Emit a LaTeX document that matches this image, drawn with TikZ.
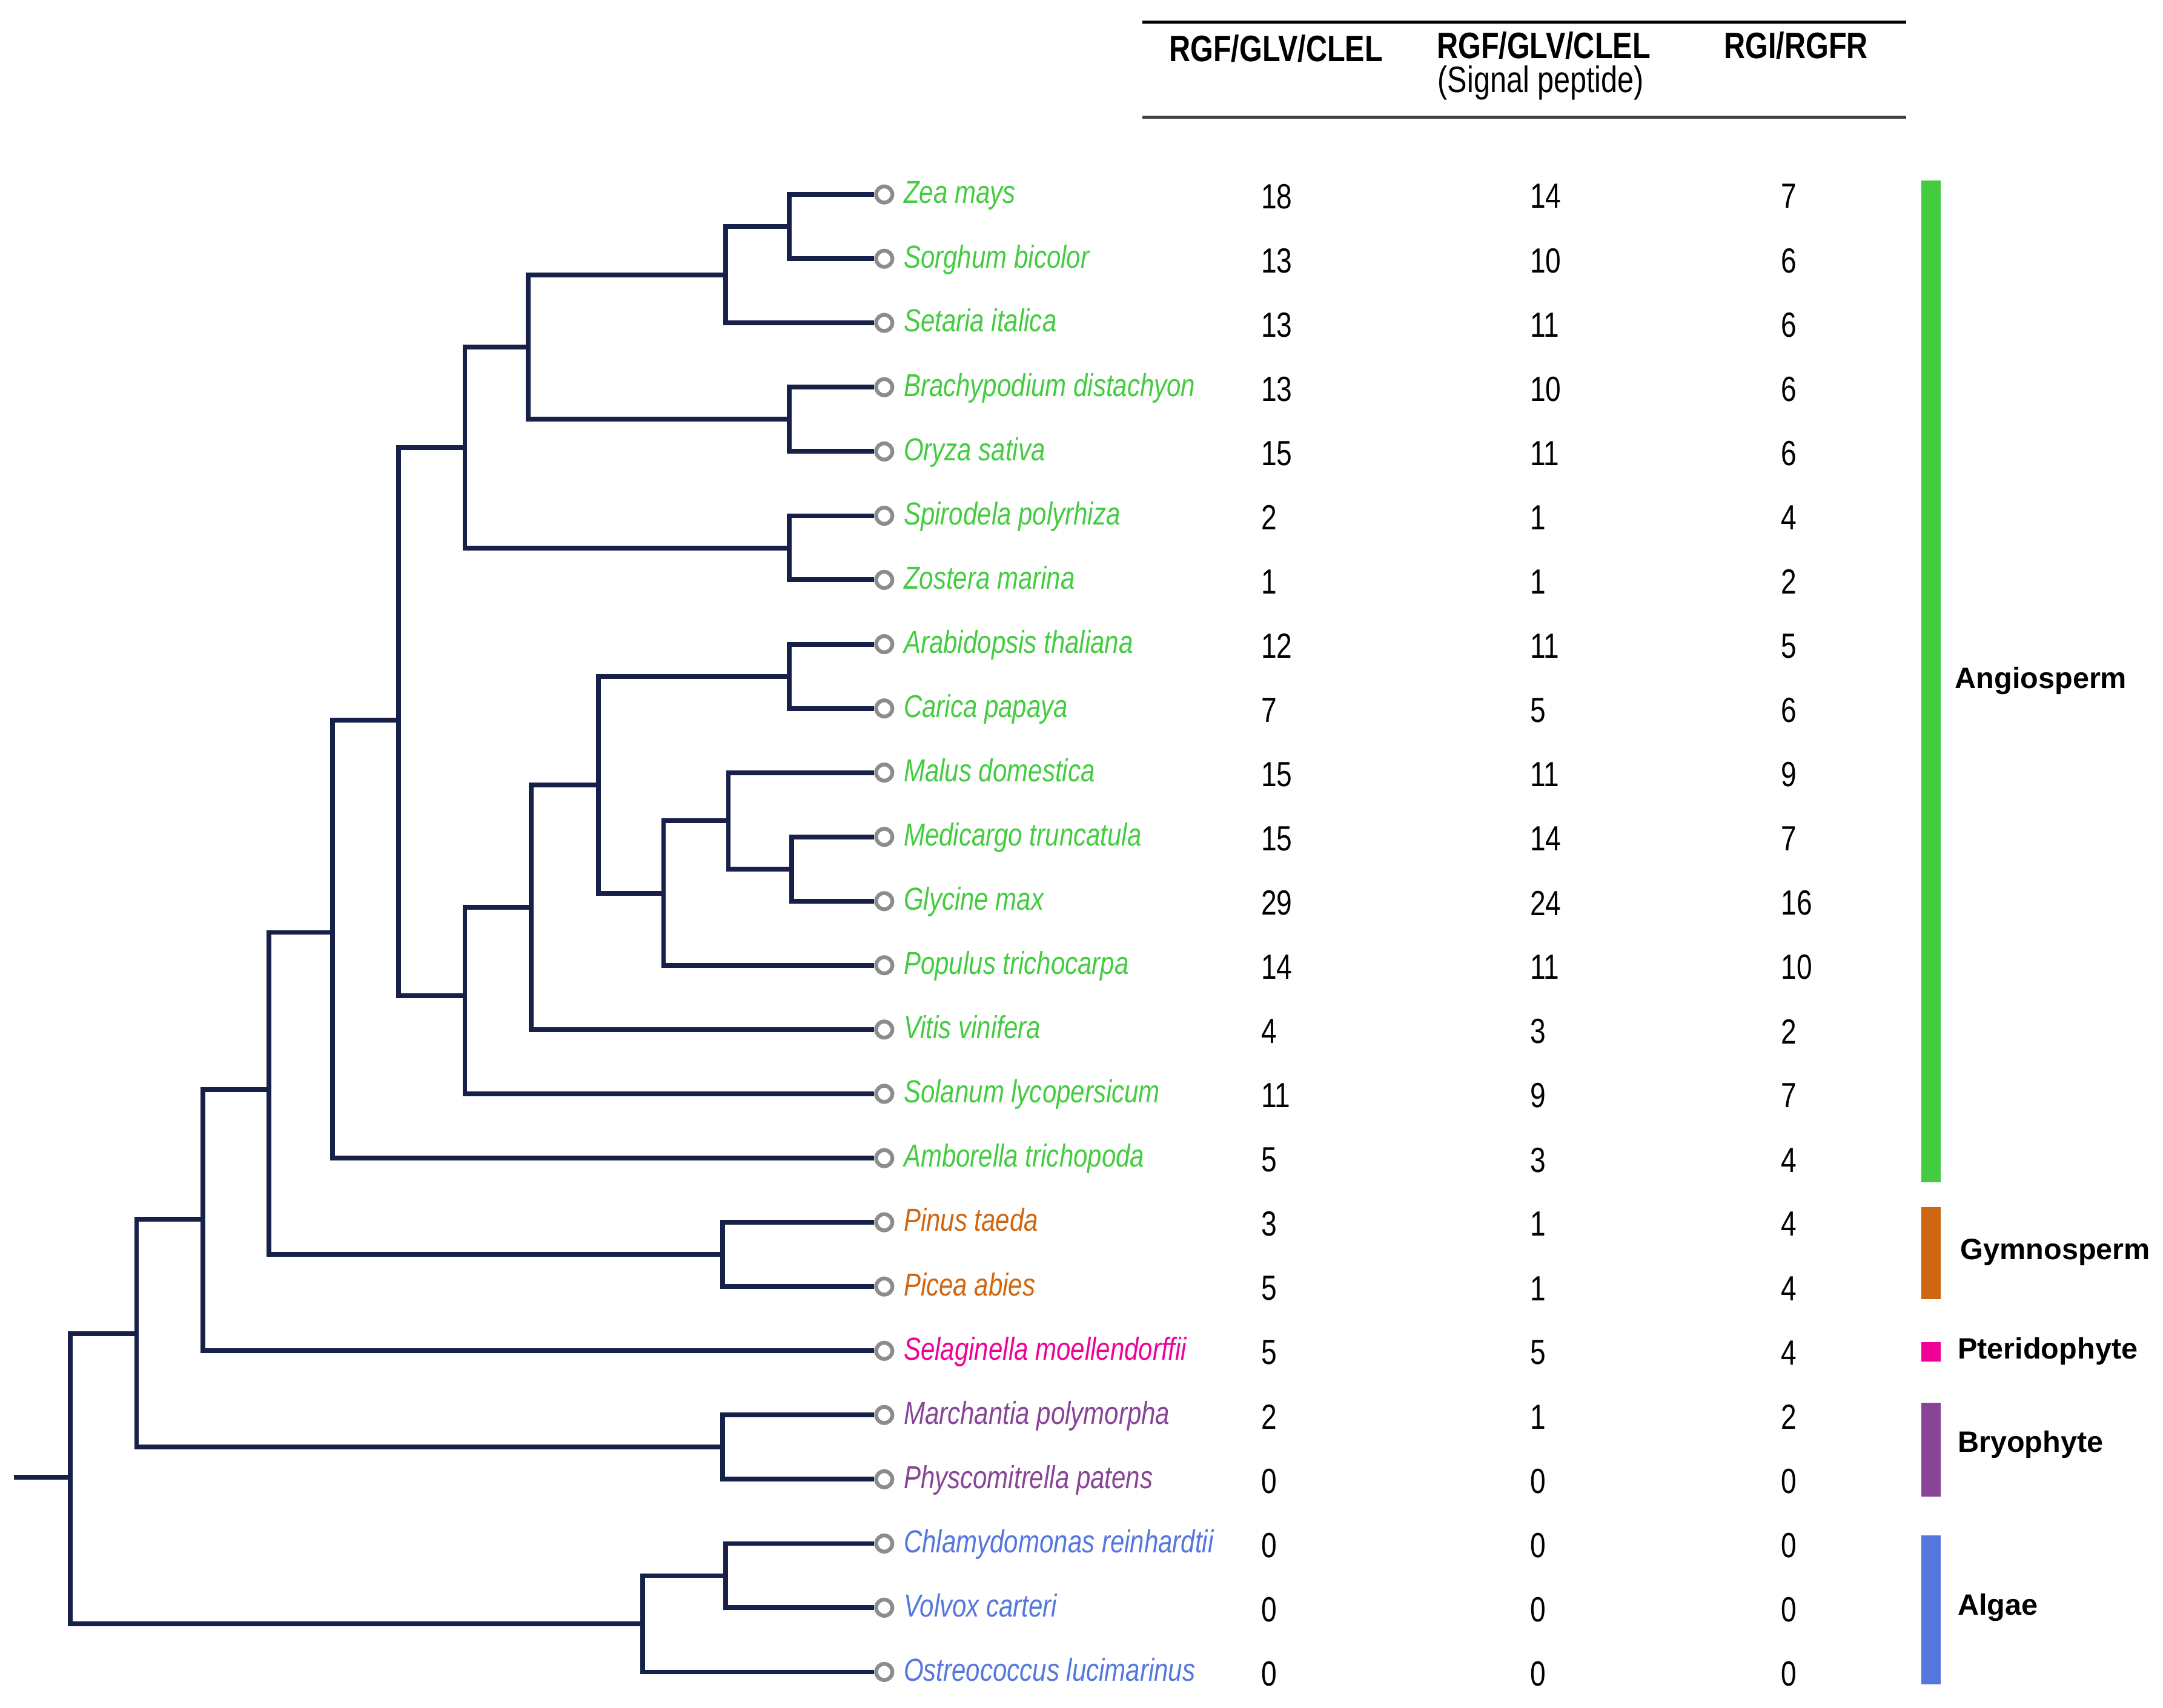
\documentclass[tikz,border=0pt]{standalone}
\usepackage{fontspec}
\setmainfont{Liberation Sans}
\newfontfamily\condensed[FakeStretch=0.8]{Liberation Sans}
\usepackage{xcolor}
\usetikzlibrary{positioning}

\definecolor{angiocol}{RGB}{68,204,64}
\definecolor{gymnocol}{RGB}{206,102,18}
\definecolor{pteridocol}{RGB}{240,0,150}
\definecolor{bryocol}{RGB}{136,68,150}
\definecolor{algaecol}{RGB}{85,118,221}
\definecolor{treecol}{RGB}{22,32,72}
\definecolor{dotcol}{RGB}{140,140,140}

\begin{document}
\begin{tikzpicture}[x=0.75pt,y=0.75pt,yscale=-1,xscale=1,
    branch/.style={draw=treecol, line width=2.6pt},
    leaf/.style={circle, draw=dotcol, line width=2.1pt, fill=white, minimum size=8.8pt, inner sep=0pt},
    sp/.style={font=\condensed\fontsize{17.3}{19}\selectfont\itshape, text=#1, inner sep=0pt, text height=2.05ex, text depth=.2ex},
    num/.style={font=\condensed\fontsize{19}{21}\selectfont, anchor=west, inner sep=0pt, yshift=-1pt},
    hdr/.style={font=\condensed\fontsize{20}{22}\selectfont\bfseries, inner sep=0pt},
    grp/.style={font=\fontsize{16}{18}\selectfont\bfseries, anchor=west, inner sep=0pt, text height=1.6ex, text depth=.2ex},
    bar/.style={fill=#1, draw=none}]
    \useasboundingbox (0,0) rectangle (1568,1238);

    % Header rules
    \draw [line width=1.6pt] (828,16) -- (1382,16) ;
    \draw [line width=1.6pt, black!75] (828,85) -- (1382,85) ;
    % Header text
    \node [hdr] (hcount) at (925,35) {RGF/GLV/CLEL};
    \node [hdr] (hsignal) at (1119,33) {RGF/GLV/CLEL};
    \node [font=\condensed\fontsize{20}{22}\selectfont, inner sep=0pt] (hsub) at (1117,60) {(Signal peptide)};
    \node [hdr] (hrecep) at (1302,33) {RGI/RGFR};

    % Leaves
    \node [leaf] (zea) at (641,141) {};
    \node [sp=angiocol, right=5pt of zea] {Zea mays};
    \node [num] at (914,141) {18}; \node [num] at (1109,141) {14}; \node [num] at (1291,141) {7};
    \node [leaf] (sorghum) at (641,187.6) {};
    \node [sp=angiocol, right=5pt of sorghum] {Sorghum bicolor};
    \node [num] at (914,187.6) {13}; \node [num] at (1109,187.6) {10}; \node [num] at (1291,187.6) {6};
    \node [leaf] (setaria) at (641,234.1) {};
    \node [sp=angiocol, right=5pt of setaria] {Setaria italica};
    \node [num] at (914,234.1) {13}; \node [num] at (1109,234.1) {11}; \node [num] at (1291,234.1) {6};
    \node [leaf] (brachy) at (641,280.7) {};
    \node [sp=angiocol, right=5pt of brachy] {Brachypodium distachyon};
    \node [num] at (914,280.7) {13}; \node [num] at (1109,280.7) {10}; \node [num] at (1291,280.7) {6};
    \node [leaf] (oryza) at (641,327.3) {};
    \node [sp=angiocol, right=5pt of oryza] {Oryza sativa};
    \node [num] at (914,327.3) {15}; \node [num] at (1109,327.3) {11}; \node [num] at (1291,327.3) {6};
    \node [leaf] (spiro) at (641,373.9) {};
    \node [sp=angiocol, right=5pt of spiro] {Spirodela polyrhiza};
    \node [num] at (914,373.9) {2}; \node [num] at (1109,373.9) {1}; \node [num] at (1291,373.9) {4};
    \node [leaf] (zostera) at (641,420.4) {};
    \node [sp=angiocol, right=5pt of zostera] {Zostera marina};
    \node [num] at (914,420.4) {1}; \node [num] at (1109,420.4) {1}; \node [num] at (1291,420.4) {2};
    \node [leaf] (arabid) at (641,467) {};
    \node [sp=angiocol, right=5pt of arabid] {Arabidopsis thaliana};
    \node [num] at (914,467) {12}; \node [num] at (1109,467) {11}; \node [num] at (1291,467) {5};
    \node [leaf] (carica) at (641,513.6) {};
    \node [sp=angiocol, right=5pt of carica] {Carica papaya};
    \node [num] at (914,513.6) {7}; \node [num] at (1109,513.6) {5}; \node [num] at (1291,513.6) {6};
    \node [leaf] (malus) at (641,560.1) {};
    \node [sp=angiocol, right=5pt of malus] {Malus domestica};
    \node [num] at (914,560.1) {15}; \node [num] at (1109,560.1) {11}; \node [num] at (1291,560.1) {9};
    \node [leaf] (medicago) at (641,606.7) {};
    \node [sp=angiocol, right=5pt of medicago] {Medicargo truncatula};
    \node [num] at (914,606.7) {15}; \node [num] at (1109,606.7) {14}; \node [num] at (1291,606.7) {7};
    \node [leaf] (glycine) at (641,653.3) {};
    \node [sp=angiocol, right=5pt of glycine] {Glycine max};
    \node [num] at (914,653.3) {29}; \node [num] at (1109,653.3) {24}; \node [num] at (1291,653.3) {16};
    \node [leaf] (populus) at (641,699.8) {};
    \node [sp=angiocol, right=5pt of populus] {Populus trichocarpa};
    \node [num] at (914,699.8) {14}; \node [num] at (1109,699.8) {11}; \node [num] at (1291,699.8) {10};
    \node [leaf] (vitis) at (641,746.4) {};
    \node [sp=angiocol, right=5pt of vitis] {Vitis vinifera};
    \node [num] at (914,746.4) {4}; \node [num] at (1109,746.4) {3}; \node [num] at (1291,746.4) {2};
    \node [leaf] (solanum) at (641,793) {};
    \node [sp=angiocol, right=5pt of solanum] {Solanum lycopersicum};
    \node [num] at (914,793) {11}; \node [num] at (1109,793) {9}; \node [num] at (1291,793) {7};
    \node [leaf] (ambo) at (641,839.6) {};
    \node [sp=angiocol, right=5pt of ambo] {Amborella trichopoda};
    \node [num] at (914,839.6) {5}; \node [num] at (1109,839.6) {3}; \node [num] at (1291,839.6) {4};
    \node [leaf] (pinus) at (641,886.1) {};
    \node [sp=gymnocol, right=5pt of pinus] {Pinus taeda};
    \node [num] at (914,886.1) {3}; \node [num] at (1109,886.1) {1}; \node [num] at (1291,886.1) {4};
    \node [leaf] (picea) at (641,932.7) {};
    \node [sp=gymnocol, right=5pt of picea] {Picea abies};
    \node [num] at (914,932.7) {5}; \node [num] at (1109,932.7) {1}; \node [num] at (1291,932.7) {4};
    \node [leaf] (selag) at (641,979.3) {};
    \node [sp=pteridocol, right=5pt of selag] {Selaginella moellendorffii};
    \node [num] at (914,979.3) {5}; \node [num] at (1109,979.3) {5}; \node [num] at (1291,979.3) {4};
    \node [leaf] (march) at (641,1025.8) {};
    \node [sp=bryocol, right=5pt of march] {Marchantia polymorpha};
    \node [num] at (914,1025.8) {2}; \node [num] at (1109,1025.8) {1}; \node [num] at (1291,1025.8) {2};
    \node [leaf] (physco) at (641,1072.4) {};
    \node [sp=bryocol, right=5pt of physco] {Physcomitrella patens};
    \node [num] at (914,1072.4) {0}; \node [num] at (1109,1072.4) {0}; \node [num] at (1291,1072.4) {0};
    \node [leaf] (chlamy) at (641,1119) {};
    \node [sp=algaecol, right=5pt of chlamy] {Chlamydomonas reinhardtii};
    \node [num] at (914,1119) {0}; \node [num] at (1109,1119) {0}; \node [num] at (1291,1119) {0};
    \node [leaf] (volvox) at (641,1165.5) {};
    \node [sp=algaecol, right=5pt of volvox] {Volvox carteri};
    \node [num] at (914,1165.5) {0}; \node [num] at (1109,1165.5) {0}; \node [num] at (1291,1165.5) {0};
    \node [leaf] (ostreo) at (641,1212.1) {};
    \node [sp=algaecol, right=5pt of ostreo] {Ostreococcus lucimarinus};
    \node [num] at (914,1212.1) {0}; \node [num] at (1109,1212.1) {0}; \node [num] at (1291,1212.1) {0};

    % Internal nodes
    \coordinate (nzs) at (572,164.3);
    \coordinate (nzss) at (526,199.2);
    \coordinate (nbo) at (572,304);
    \coordinate (ngrass) at (383,251.6);
    \coordinate (nsz) at (572,397.2);
    \coordinate (nmono) at (337,324.4);
    \coordinate (nac) at (572,490.3);
    \coordinate (nmg) at (574,630);
    \coordinate (nmmg) at (528,595.1);
    \coordinate (nmmgp) at (481,647.5);
    \coordinate (nrosid) at (434,568.9);
    \coordinate (nvit) at (385,657.7);
    \coordinate (nsol) at (337,722);
    \coordinate (nmesan) at (289,522);
    \coordinate (nangio) at (241,676);
    \coordinate (npp) at (524,909.4);
    \coordinate (nseed) at (195,790);
    \coordinate (nvasc) at (147,884);
    \coordinate (nmp) at (524,1049.1);
    \coordinate (nland) at (99,967);
    \coordinate (ncv) at (526,1142.3);
    \coordinate (nalg) at (466,1177.2);
    \coordinate (nroot) at (51,1071);
    \coordinate (rootbase) at (10,1071);

    % Branches
    \draw [branch] (zea.west) -| (nzs) |- (sorghum.west);
    \draw [branch] (nzs) -| (nzss) |- (setaria.west);
    \draw [branch] (brachy.west) -| (nbo) |- (oryza.west);
    \draw [branch] (nzss) -| (ngrass) |- (nbo);
    \draw [branch] (spiro.west) -| (nsz) |- (zostera.west);
    \draw [branch] (ngrass) -| (nmono) |- (nsz);
    \draw [branch] (arabid.west) -| (nac) |- (carica.west);
    \draw [branch] (medicago.west) -| (nmg) |- (glycine.west);
    \draw [branch] (malus.west) -| (nmmg) |- (nmg);
    \draw [branch] (nmmg) -| (nmmgp) |- (populus.west);
    \draw [branch] (nac) -| (nrosid) |- (nmmgp);
    \draw [branch] (nrosid) -| (nvit) |- (vitis.west);
    \draw [branch] (nvit) -| (nsol) |- (solanum.west);
    \draw [branch] (nmono) -| (nmesan) |- (nsol);
    \draw [branch] (nmesan) -| (nangio) |- (ambo.west);
    \draw [branch] (pinus.west) -| (npp) |- (picea.west);
    \draw [branch] (nangio) -| (nseed) |- (npp);
    \draw [branch] (nseed) -| (nvasc) |- (selag.west);
    \draw [branch] (march.west) -| (nmp) |- (physco.west);
    \draw [branch] (nvasc) -| (nland) |- (nmp);
    \draw [branch] (chlamy.west) -| (ncv) |- (volvox.west);
    \draw [branch] (ncv) -| (nalg) |- (ostreo.west);
    \draw [branch] (nland) -| (nroot) |- (nalg);
    \draw [branch] (rootbase) -- (nroot);

    % Group bars
    \fill [bar=angiocol] (1393,131) rectangle (1407,857);
    \fill [bar=gymnocol] (1393,875) rectangle (1407,942);
    \fill [bar=pteridocol] (1393,973) rectangle (1407,987);
    \fill [bar=bryocol] (1393,1017) rectangle (1407,1085);
    \fill [bar=algaecol] (1393,1113) rectangle (1407,1221);
    % Group labels
    \node [grp] (gangio) at (1417,494) {Angiosperm};
    \node [grp] (ggymno) at (1421,908) {Gymnosperm};
    \node [grp] (gpterido) at (1419,980) {Pteridophyte};
    \node [grp] (gbryo) at (1419,1048) {Bryophyte};
    \node [grp] (galgae) at (1419,1166) {Algae};

\end{tikzpicture}
\end{document}
